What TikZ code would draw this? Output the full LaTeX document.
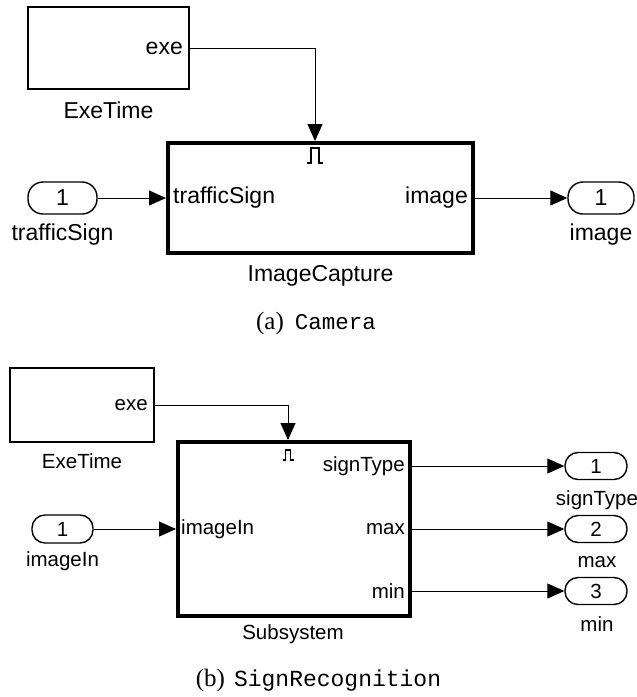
\documentclass[tikz,border=0pt]{standalone}
\usepackage{fontspec}
\setmainfont{Liberation Serif}
\newfontfamily\arial{Liberation Sans}
\newfontfamily\cour{Liberation Mono}
\usetikzlibrary{arrows.meta}
\begin{document}
\begin{tikzpicture}[x=1pt,y=-1pt,
  thinbox/.style={draw,line width=1.5pt,minimum width=#1,inner sep=0pt},
  thickbox/.style={draw,line width=4pt,inner sep=0pt},
  pill/.style={draw,line width=1.4pt,rounded corners=13pt,inner sep=0pt},
  lblA/.style={font=\arial\fontsize{23}{23}\selectfont,inner sep=0pt},
  lblB/.style={font=\arial\fontsize{20.5}{20.5}\selectfont,inner sep=0pt},
  conn/.style={line width=1pt,-{Triangle[length=17pt,width=15pt]}},
  pulse/.style={line width=1.2pt}
]
\useasboundingbox (0,0) rectangle (637,697);
% ---------------- (a) Camera ----------------
\node[thinbox=161pt,minimum height=82pt] (exeT) at (108.5,48) {};
\node[lblA,anchor=east] (exeTl) at (183,48) {exe};
\node[lblA] (exeTn) at (108.5,110) {ExeTime};
\node[thickbox,minimum width=305pt,minimum height=110pt] (cap) at (320.5,198) {};
\node[pill,minimum width=69pt,minimum height=32pt,rounded corners=15pt] (inA) at (62.5,198) {\arial\fontsize{23}{23}\selectfont 1};
\node[lblA] (inAl) at (62.5,235) {trafficSign};
\node[pill,minimum width=66pt,minimum height=32pt,rounded corners=15pt] (outA) at (601,198) {\arial\fontsize{23}{23}\selectfont 1};
\node[lblA] (outAl) at (601,235) {image};
\node[lblA,anchor=west] (capin) at (173,198) {trafficSign};
\node[lblA,anchor=east] (capout) at (468,198) {image};
\node[lblA] (capn) at (320.5,276) {ImageCapture};
\draw[pulse] (307,163) -- (311,163) -- (311,148) -- (319,148) -- (319,163) -- (323,163);
\draw[conn] (exeT.east |- exeTl) -| ([xshift=-5.5pt]cap.north);
\draw[conn] (inA.east) -- (cap.west |- inA);
\draw[conn] (cap.east |- outA) -- (outA.west);
\node[inner sep=0pt] (capA) at (316,323) {\fontsize{25}{25}\selectfont(a)\hspace{11pt}\cour\fontsize{22.5}{22.5}\selectfont Camera};
% ---------------- (b) SignRecognition ----------------
\node[thinbox=144pt,minimum height=74pt] (exeB) at (82,405) {};
\node[lblB,anchor=east] (exeBl) at (148,405) {exe};
\node[lblB] (exeBn) at (82,461) {ExeTime};
\node[thickbox,minimum width=232pt,minimum height=174pt] (sub) at (294,529) {};
\node[pill,minimum width=61pt,minimum height=28pt] (inB) at (62.5,529) {\arial\fontsize{20.5}{20.5}\selectfont 1};
\node[lblB] (inBl) at (62.5,561) {imageIn};
\node[pill,minimum width=62pt,minimum height=27pt] (o1) at (596,466) {\arial\fontsize{20.5}{20.5}\selectfont 1};
\node[pill,minimum width=62pt,minimum height=27pt] (o2) at (596,529) {\arial\fontsize{20.5}{20.5}\selectfont 2};
\node[pill,minimum width=62pt,minimum height=27pt] (o3) at (596,591) {\arial\fontsize{20.5}{20.5}\selectfont 3};
\node[lblB] (o1l) at (597,500) {signType};
\node[lblB] (o2l) at (597,562) {max};
\node[lblB] (o3l) at (597,624) {min};
\node[lblB,anchor=west] (subin) at (181,529) {imageIn};
\node[lblB,anchor=east] (subo1) at (405,466) {signType};
\node[lblB,anchor=east] (subo2) at (405,529) {max};
\node[lblB,anchor=east] (subo3) at (405,591) {min};
\node[lblB] (subn) at (293,634) {Subsystem};
\draw[pulse] (282.5,460) -- (285.5,460) -- (285.5,450) -- (290.5,450) -- (290.5,460) -- (293.5,460);
\draw[conn] (exeB.east |- exeBl) -| ([xshift=-6pt]sub.north);
\draw[conn] (inB.east) -- (sub.west |- inB);
\draw[conn] (sub.east |- o1) -- (o1.west);
\draw[conn] (sub.east |- o2) -- (o2.west);
\draw[conn] (sub.east |- o3) -- (o3.west);
\node[inner sep=0pt] (capB) at (318.5,680) {\fontsize{25}{25}\selectfont(b)\hspace{9pt}\cour\fontsize{23}{23}\selectfont SignRecognition};
\end{tikzpicture}
\end{document}
